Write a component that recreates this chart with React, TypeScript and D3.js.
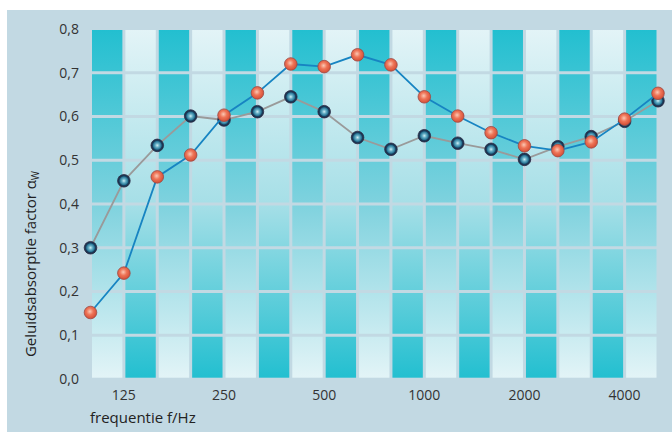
import * as d3 from 'd3';

const W = 672, H = 432;
const FREQS = ['100', '125', '160', '200', '250', '315', '400', '500', '630', '800', '1000', '1250', '1600', '2000', '2500', '3150', '4000', '5000'];
const X_LABELS = ['125', '250', '500', '1000', '2000', '4000'];
const Y_TICKS = [0, 0.1, 0.2, 0.3, 0.4, 0.5, 0.6, 0.7, 0.8];
// grey line, navy markers
const SERIES_A = [0.30, 0.453, 0.534, 0.601, 0.592, 0.611, 0.645, 0.611, 0.552, 0.525, 0.556, 0.539, 0.525, 0.502, 0.531, 0.554, 0.589, 0.636];
// blue line, red markers
const SERIES_B = [0.152, 0.242, 0.462, 0.512, 0.603, 0.654, 0.72, 0.714, 0.741, 0.718, 0.645, 0.601, 0.563, 0.533, 0.522, 0.542, 0.594, 0.653];

const FONT = '"Open Sans", "Noto Sans", sans-serif';
const BG = '#c2d9e3';

export default function App() {
  const x = d3.scalePoint<string>().domain(FREQS).range([90.5, 658]);
  const y = d3.scaleLinear().domain([0, 0.8]).range([379, 29]);
  const fmt = (v: number) => d3.format('.1f')(v).replace('.', ',');
  const line = d3.line<number>().x((_, i) => x(FREQS[i])!).y(v => y(v));

  // alternating columns, split into rows by thin background gaps
  const cells: JSX.Element[] = [];
  for (let i = 0; i < FREQS.length - 1; i++) {
    const x0 = x(FREQS[i])! + 1.5, x1 = x(FREQS[i + 1])! - 1.5;
    for (let r = 0; r < 8; r++) {
      const top = r === 7 ? y(0.8) + 1 : y((r + 1) / 10) + 1.5;
      const bot = r === 0 ? y(0) - 1.3 : y(r / 10) - 1.5;
      cells.push(
        <rect key={`${i}-${r}`} x={x0} y={top} width={x1 - x0} height={bot - top}
          fill={i % 2 === 0 ? 'url(#colDark)' : 'url(#colLight)'} />,
      );
    }
  }

  return (
    <svg width={W} height={H} viewBox={`0 0 ${W} ${H}`}
      style={{ position: 'absolute', left: 0, top: 0, display: 'block' }} fontFamily={FONT}>
      <defs>
        <linearGradient id="colDark" gradientUnits="userSpaceOnUse" x1={0} x2={0} y1={y(0.8)} y2={y(0)}>
          <stop offset="0" stopColor="#22bfd0" />
          <stop offset="0.5" stopColor="#7fd2de" />
          <stop offset="1" stopColor="#e3f4f7" />
        </linearGradient>
        <linearGradient id="colLight" gradientUnits="userSpaceOnUse" x1={0} x2={0} y1={y(0.8)} y2={y(0)}>
          <stop offset="0" stopColor="#e3f4f7" />
          <stop offset="0.5" stopColor="#a6dfe7" />
          <stop offset="1" stopColor="#22bfd0" />
        </linearGradient>
        <radialGradient id="mkRed" cx="45%" cy="42%" r="60%">
          <stop offset="0" stopColor="#fbc8b4" />
          <stop offset="0.45" stopColor="#ee7457" />
          <stop offset="1" stopColor="#d24b33" />
        </radialGradient>
        <radialGradient id="mkNavy" cx="50%" cy="50%" r="50%">
          <stop offset="0" stopColor="#d2eef4" />
          <stop offset="0.3" stopColor="#6ab2c8" />
          <stop offset="0.62" stopColor="#2a7898" />
          <stop offset="0.75" stopColor="#1b3f5e" />
          <stop offset="1" stopColor="#172c44" />
        </radialGradient>
      </defs>

      <rect x={7} y={10} width={W - 7} height={H - 10} fill={BG} />
      <g>{cells}</g>

      {Y_TICKS.map(t => (
        <text key={t} x={79} y={y(t)} dy="0.35em" textAnchor="end" fontSize={14} fill="#333">{fmt(t)}</text>
      ))}

      {X_LABELS.map(f => (
        <text key={f} x={x(f)!} y={395} dy="0.35em" textAnchor="middle" fontSize={14} fill="#333">{f}</text>
      ))}

      <text x={90} y={423} fontSize={15} fill="#222">frequentie f/Hz</text>
      <text transform="translate(36,264) rotate(-90)" textAnchor="middle" fontSize={15} fill="#222">
        Geluidsabsorptie factor α<tspan fontSize={10} dy={3}>W</tspan>
      </text>

      <path d={line(SERIES_A) ?? ''} fill="none" stroke="#9a9a9a" strokeWidth={1.8} />
      {SERIES_A.map((v, i) => (
        <circle key={`a${i}`} cx={x(FREQS[i])!} cy={y(v)} r={6.3} fill="url(#mkNavy)" stroke="#2b2a45" strokeWidth={0.8} />
      ))}

      <path d={line(SERIES_B) ?? ''} fill="none" stroke="#1784c2" strokeWidth={1.8} />
      {SERIES_B.map((v, i) => (
        <circle key={`b${i}`} cx={x(FREQS[i])!} cy={y(v)} r={6.3} fill="url(#mkRed)" stroke="#9b4a46" strokeWidth={0.8} />
      ))}
    </svg>
  );
}
